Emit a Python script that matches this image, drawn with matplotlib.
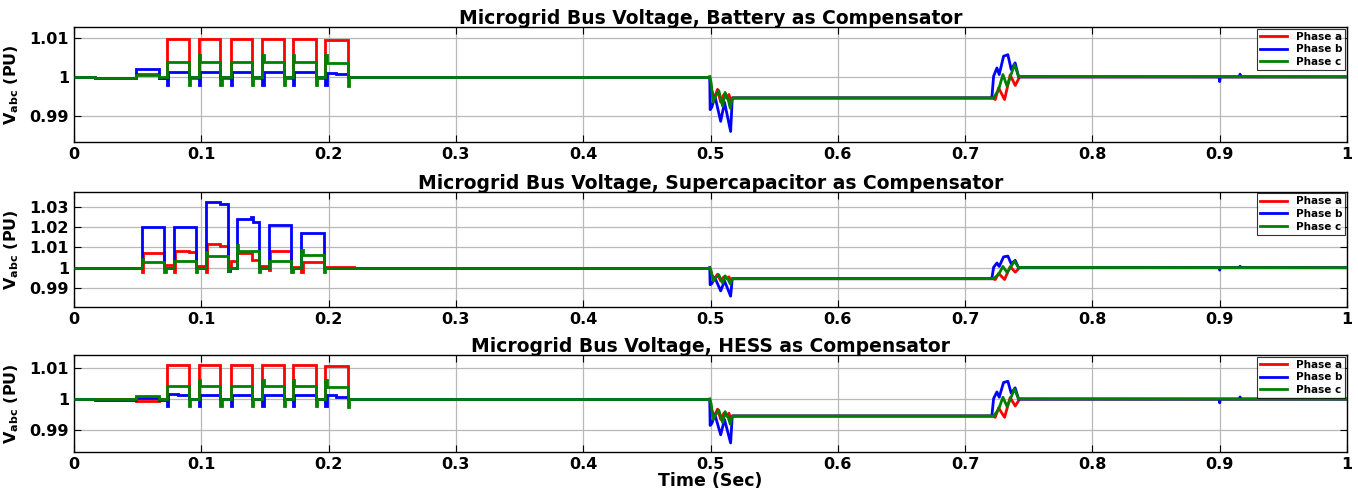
import matplotlib
matplotlib.use("Agg")
import matplotlib.pyplot as plt
import numpy as np

# ---- step portion (0 .. 0.4994 s): stair edges and levels per phase ----
# Battery as compensator
bat_edges_a = [0, 0.0165, 0.049, 0.067, 0.0727, 0.0904, 0.098, 0.115, 0.1231, 0.1399,
               0.148, 0.165, 0.172, 0.1898, 0.1974, 0.2151, 0.4994]
bat_vals_a = [1.0, 0.9997, 1.0008, 0.9998, 1.0097, 0.9996, 1.0097, 0.9996, 1.0097, 0.9996,
              1.0096, 0.9996, 1.0097, 0.9997, 1.0095, 0.9999]

bat_edges_b = [0, 0.0165, 0.049, 0.067, 0.0727, 0.0737, 0.0904, 0.098, 0.099, 0.115,
               0.1231, 0.1241, 0.1399, 0.148, 0.149, 0.165, 0.172, 0.173, 0.1898,
               0.1974, 0.1984, 0.2060, 0.2151, 0.4994]
bat_vals_b = [1.0, 0.9996, 1.0019, 0.9998, 0.9979, 1.0013, 0.9999, 0.9979, 1.0012,
              0.9999, 0.9979, 1.0012, 0.9999, 0.9979, 1.0013, 0.9999, 0.9979, 1.0012,
              0.9999, 0.9979, 1.0011, 1.0007, 0.9999]

bat_edges_c = [0, 0.0165, 0.049, 0.067, 0.0727, 0.0904, 0.0914, 0.098, 0.0992, 0.115,
               0.116, 0.1231, 0.1399, 0.1409, 0.148, 0.1492, 0.165, 0.166, 0.172, 0.1732,
               0.1898, 0.1908, 0.1974, 0.1986, 0.2151, 0.2161, 0.4994]
bat_vals_c = [1.0, 0.9998, 1.0005, 0.9999, 1.0039, 0.9979, 1.0, 1.0057, 1.0039, 0.9979,
              1.0, 1.0039, 0.9979, 1.0, 1.0057, 1.0039, 0.9979, 1.0, 1.0057, 1.0039,
              0.9979, 1.0, 1.0057, 1.0036, 0.9976, 1.0]

# Supercapacitor as compensator
sc_edges_a = [0, 0.0531, 0.0541, 0.0709, 0.0784, 0.0794, 0.0900, 0.0957, 0.1033, 0.1043,
              0.1150, 0.1210, 0.1231, 0.1281, 0.1400, 0.1454, 0.1532, 0.1542, 0.1707,
              0.1786, 0.1796, 0.1961, 0.2200, 0.4994]
sc_vals_a = [1.0, 0.9977, 1.0070, 1.0012, 0.9977, 1.0082, 1.0075, 1.0008, 0.9977, 1.0116,
             1.0108, 1.0010, 1.0033, 1.0072, 1.0038, 1.0010, 0.9989, 1.0082, 1.0005,
             0.9977, 1.0026, 1.0005, 1.0]

sc_edges_b = [0, 0.0531, 0.0709, 0.0784, 0.0957, 0.1033, 0.1150, 0.1210, 0.1222, 0.1281,
              0.1390, 0.1405, 0.1454, 0.1532, 0.1707, 0.1786, 0.1961, 0.4994]
sc_vals_b = [1.0, 1.0200, 1.0, 1.0200, 1.0, 1.0320, 1.0315, 0.9984, 1.0, 1.0238, 1.0247,
             1.0226, 1.0, 1.0209, 1.0, 1.0172, 1.0]

sc_edges_c = [0, 0.0531, 0.0540, 0.0709, 0.0719, 0.0784, 0.0957, 0.0967, 0.1033, 0.1043,
              0.1210, 0.1220, 0.1281, 0.1291, 0.1454, 0.1464, 0.1532, 0.1707, 0.1717,
              0.1786, 0.1796, 0.1961, 0.1971, 0.4994]
sc_vals_c = [1.0, 1.0045, 1.0030, 0.9977, 1.0, 1.0031, 0.9981, 1.0, 1.0075, 1.0056,
             0.9985, 1.0, 1.0111, 1.0080, 0.9977, 1.0, 1.0034, 0.9977, 1.0, 1.0085,
             1.0062, 0.9977, 1.0]

# HESS as compensator
hess_edges_a = [0, 0.049, 0.067, 0.0727, 0.0904, 0.098, 0.115, 0.1231, 0.1399, 0.148,
                0.165, 0.172, 0.1898, 0.1974, 0.2151, 0.4994]
hess_vals_a = [0.9999, 0.9994, 0.9999, 1.0109, 0.9999, 1.0109, 0.9999, 1.0109, 0.9999,
               1.0108, 0.9999, 1.0109, 0.9999, 1.0106, 0.9999]

hess_edges_b = [0, 0.0165, 0.049, 0.067, 0.0727, 0.0737, 0.0820, 0.0904, 0.098, 0.099,
                0.115, 0.1231, 0.1241, 0.1399, 0.148, 0.149, 0.165, 0.172, 0.173,
                0.1898, 0.1974, 0.1984, 0.2060, 0.2151, 0.4994]
hess_vals_b = [1.0, 0.9997, 1.0004, 0.9998, 0.9978, 1.0017, 1.0013, 0.9999, 0.9978,
               1.0013, 0.9999, 0.9978, 1.0013, 0.9999, 0.9978, 1.0013, 0.9999, 0.9978,
               1.0013, 0.9999, 0.9978, 1.0012, 1.0008, 0.9999]

hess_edges_c = [0, 0.049, 0.067, 0.0727, 0.0904, 0.0914, 0.098, 0.0992, 0.115, 0.116,
                0.1231, 0.1399, 0.1409, 0.148, 0.1492, 0.165, 0.166, 0.172, 0.1732,
                0.1898, 0.1908, 0.1974, 0.1986, 0.2151, 0.2161, 0.4994]
hess_vals_c = [1.0, 1.0010, 1.0, 1.0043, 0.9978, 1.0, 1.0060, 1.0043, 0.9978, 1.0,
               1.0043, 0.9978, 1.0, 1.0060, 1.0043, 0.9978, 1.0, 1.0060, 1.0043,
               0.9978, 1.0, 1.0060, 1.0040, 0.9976, 1.0]

# ---- sag at 0.5 s, recovery swell at 0.72 s, then steady to 1 s ----
fault_t_a = [0.4994, 0.5005, 0.5030, 0.5055, 0.5080, 0.5105, 0.5130, 0.5145, 0.5160,
             0.5171, 0.7215, 0.7237, 0.7263, 0.7310, 0.7354, 0.7394, 0.7428, 1.0]
fault_v_a = [0.9999, 0.9970, 0.9945, 0.9968, 0.9935, 0.9955, 0.9945, 0.9955, 0.9935,
             0.9946, 0.9946, 0.9942, 0.9972, 0.9942, 1.0005, 0.9978, 1.0, 1.0]

fault_t_b = [0.4994, 0.4997, 0.5010, 0.5035, 0.5080, 0.5110, 0.5158, 0.5171, 0.7210,
             0.7224, 0.7250, 0.7268, 0.7302, 0.7336, 0.7362, 0.7393, 0.7420, 0.8995,
             0.9000, 0.9005, 0.9155, 0.9160, 0.9165, 1.0]
fault_v_b = [1.0, 0.9916, 0.9922, 0.9950, 0.9886, 0.9935, 0.9860, 0.9946, 0.9946,
             1.0002, 1.0023, 1.0006, 1.0053, 1.0057, 1.0019, 1.0036, 1.0, 1.0,
             0.9988, 1.0, 1.0, 1.0007, 1.0, 1.0]

fault_t_c = [0.4994, 0.5005, 0.5020, 0.5040, 0.5065, 0.5095, 0.5115, 0.5140, 0.5155,
             0.5171, 0.7224, 0.7263, 0.7297, 0.7330, 0.7388, 0.7420, 1.0]
fault_v_c = [1.0, 0.9985, 0.9935, 0.9950, 0.9965, 0.9925, 0.9960, 0.9940, 0.9920,
             0.9946, 0.9946, 0.9967, 1.0006, 0.9976, 1.0032, 1.0001, 1.0]

titles = ["Microgrid Bus Voltage, Battery as Compensator",
          "Microgrid Bus Voltage, Supercapacitor as Compensator",
          "Microgrid Bus Voltage, HESS as Compensator"]
phase_names = ["Phase a", "Phase b", "Phase c"]
phase_colors = ["#ff0000", "#0000ff", "#008000"]

panels = [
    ([bat_edges_a, bat_edges_b, bat_edges_c], [bat_vals_a, bat_vals_b, bat_vals_c]),
    ([sc_edges_a, sc_edges_b, sc_edges_c], [sc_vals_a, sc_vals_b, sc_vals_c]),
    ([hess_edges_a, hess_edges_b, hess_edges_c], [hess_vals_a, hess_vals_b, hess_vals_c]),
]
fault_t = [fault_t_a, fault_t_b, fault_t_c]
fault_v = [fault_v_a, fault_v_b, fault_v_c]

y_limits = [(0.9833, 1.0128), (0.9807, 1.0373), (0.9832, 1.0141)]
y_ticks = [[0.99, 1.0, 1.01], [0.99, 1.0, 1.01, 1.02, 1.03], [0.99, 1.0, 1.01]]
x_ticks = np.round(np.arange(0, 1.01, 0.1), 1)

# axes boxes in figure fraction: left, bottom, width, height
boxes = [(0.0545, 0.7114, 0.9374, 0.2337),
         (0.0545, 0.3760, 0.9374, 0.2344),
         (0.0545, 0.0819, 0.9374, 0.1966)]

plt.rcParams['font.family'] = ['DejaVu Sans']
plt.rcParams['font.weight'] = 'bold'

fig = plt.figure(figsize=(13.58, 4.92), dpi=100)

for k, (edges_list, vals_list) in enumerate(panels):
    ax = fig.add_axes(boxes[k])
    for p in range(3):
        ax.stairs(vals_list[p], edges_list[p], baseline=None, color=phase_colors[p],
                  linewidth=2.0, zorder=2 + p)
        ax.plot(fault_t[p], fault_v[p], color=phase_colors[p], linewidth=2.0,
                label=phase_names[p], zorder=2 + p)

    ax.set_xlim(0, 1)
    ax.set_ylim(*y_limits[k])
    ax.set_xticks(x_ticks)
    ax.set_xticklabels([f"{v:g}" for v in x_ticks])
    ax.set_yticks(y_ticks[k])
    ax.set_yticklabels([f"{v:g}" for v in y_ticks[k]])
    ax.grid(True, color="#b8b8b8", linewidth=0.9)
    ax.set_axisbelow(True)
    ax.tick_params(direction="in", top=True, right=True, length=5, labelsize=11.5)
    for lab in ax.get_xticklabels() + ax.get_yticklabels():
        lab.set_fontweight("bold")
    for s in ax.spines.values():
        s.set_linewidth(1.0)
        s.set_color("black")

    ax.set_title(titles[k], fontsize=13.5, fontweight="bold", pad=2)
    ax.set_ylabel(r"$\mathbf{V_{abc}}$ (PU)", fontsize=11.5, fontweight="bold", labelpad=6)

    leg = ax.legend(loc="upper right", fontsize=7.5, frameon=True, fancybox=False,
                    borderpad=0.3, labelspacing=0.25, handlelength=2.6,
                    borderaxespad=0.15)
    leg.get_frame().set_edgecolor("black")
    leg.get_frame().set_linewidth(0.8)
    for t in leg.get_texts():
        t.set_fontweight("bold")

    if k == 2:
        ax.set_xlabel("Time (Sec)", fontsize=12.5, fontweight="bold", labelpad=0)

fig.savefig("out.png", dpi=100)
